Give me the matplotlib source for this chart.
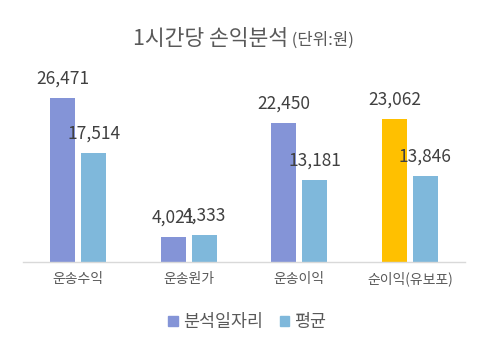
import matplotlib
matplotlib.use("Agg")
import matplotlib.pyplot as plt
import numpy as np
from matplotlib.patches import Patch

plt.rcParams['font.family'] = ['Noto Sans CJK KR', 'DejaVu Sans']

categories = ['운송수익', '운송원가', '운송이익', '순이익(유보포)']
series_names = ['분석일자리', '평균']
analysis_vals = [26471, 4021, 22450, 23062]
average_vals = [17514, 4333, 13181, 13846]
title_main = '1시간당 손익분석'
title_unit = '(단위:원)'

c_analysis = '#8494D7'
c_average = '#7FB8DB'
c_highlight = '#FFC000'
text_color = '#595959'
label_color = '#404040'

fig = plt.figure(figsize=(4.87, 3.51), dpi=100)
ax = fig.add_axes([0.047, 0.2536, 0.908, 0.53])

x = np.arange(len(categories))
w = 0.225
off = 0.14
colors_a = [c_analysis] * len(categories)
colors_a[-1] = c_highlight
b1 = ax.bar(x - off, analysis_vals, w, color=colors_a, label=series_names[0])
b2 = ax.bar(x + off, average_vals, w, color=c_average, label=series_names[1])

for bars, vals in ((b1, analysis_vals), (b2, average_vals)):
    for rect, v in zip(bars, vals):
        ax.annotate(f'{v:,}', (rect.get_x() + rect.get_width() / 2, rect.get_height()),
                    xytext=(0, 7.5), textcoords='offset points', ha='center', va='bottom',
                    fontsize=12.5, color=label_color)

ax.set_xlim(-0.5, len(categories) - 0.5)
ax.set_ylim(0, 30000)
ax.set_yticks([])
ax.set_xticks(x)
ax.set_xticklabels(categories, fontsize=10, color=text_color)
ax.tick_params(axis='x', length=0, pad=7)
for s in ['top', 'right', 'left']:
    ax.spines[s].set_visible(False)
ax.spines['bottom'].set_color('#D9D9D9')
ax.spines['bottom'].set_linewidth(1.0)

handles = [Patch(color=c_analysis), Patch(color=c_average)]
leg = fig.legend(handles, series_names, loc='center', bbox_to_anchor=(0.508, 1 - 322 / 351),
                 ncol=2, frameon=False, fontsize=12.5, handlelength=0.55, handleheight=0.55,
                 handletextpad=0.3, columnspacing=0.95, labelcolor=text_color)

# Title composed of two parts
fig.canvas.draw()
r = fig.canvas.get_renderer()
t1 = fig.text(0, 1 - 45 / 351, title_main, fontsize=15.5, color=text_color, ha='left', va='baseline')
t2 = fig.text(0, 1 - 45 / 351, ' ' + title_unit, fontsize=12, color=text_color, ha='left', va='baseline')
w1 = t1.get_window_extent(r).width
w2 = t2.get_window_extent(r).width
figw = fig.bbox.width
start = (figw - (w1 + w2)) / 2
t1.set_x(start / figw)
t2.set_x((start + w1) / figw)

fig.savefig('out.png', dpi=100)
